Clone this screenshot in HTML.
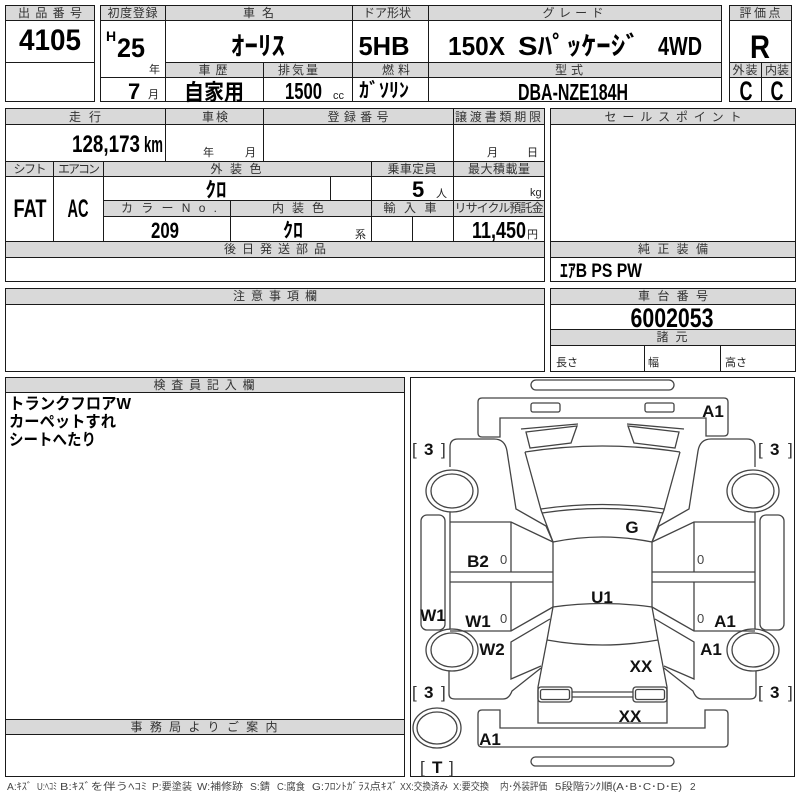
<!DOCTYPE html>
<html><head><meta charset="utf-8"><style>
html,body{margin:0;padding:0;background:#fff;width:800px;height:800px;overflow:hidden}
svg{display:block}
text{font-family:'Liberation Sans','Noto Sans CJK JP',sans-serif;}
.h{font-size:12px;fill:#333;text-anchor:middle}
.v{font-weight:bold;fill:#000}
.c{text-anchor:middle}
.s{font-size:11px;fill:#222}
.l{stroke:#1a1a1a;stroke-width:1;fill:none}
.g{fill:#d9d9d9}
.d{stroke:#444;stroke-width:1.3;fill:none}
.cl{font-weight:bold;font-size:17px;fill:#111}
.br{font-size:17px;fill:#333}
.z{font-size:13px;fill:#444}
.lg{font-size:10px;fill:#444}
</style></head><body>
<svg width="800" height="800" viewBox="0 0 800 800" xmlns="http://www.w3.org/2000/svg">
<!-- fills -->
<rect class="g" x="5" y="5" width="90" height="15"/>
<rect class="g" x="100" y="5" width="622" height="15"/>
<rect class="g" x="165" y="62" width="557" height="15"/>
<rect class="g" x="729" y="5" width="63" height="15"/>
<rect class="g" x="729" y="62" width="63" height="15"/>
<rect class="g" x="5" y="108" width="540" height="16"/>
<rect class="g" x="5" y="161" width="540" height="15"/>
<rect class="g" x="103" y="200" width="442" height="16"/>
<rect class="g" x="5" y="241" width="540" height="16"/>
<rect class="g" x="550" y="108" width="246" height="16"/>
<rect class="g" x="550" y="241" width="246" height="16"/>
<rect class="g" x="550" y="288" width="246" height="16"/>
<rect class="g" x="550" y="329" width="246" height="16"/>
<rect class="g" x="5" y="288" width="540" height="16"/>
<rect class="g" x="5" y="377" width="400" height="15"/>
<rect class="g" x="5" y="719" width="400" height="15"/>

<!-- lines -->
<path class="l" d="M5.5 5.5H94.5V101.5H5.5Z M5 20.5H95 M5 62.5H95"/>
<path class="l" d="M100.5 5.5H721.5V101.5H100.5Z M100 20.5H722 M165 62.5H722 M100 77.5H722 M165.5 5V102 M352.5 5V102 M428.5 5V102 M263.5 62V102"/>
<path class="l" d="M729.5 5.5H791.5V101.5H729.5Z M729 20.5H792 M729 62.5H792 M729 77.5H792 M761.5 62V102"/>
<path class="l" d="M5.5 108.5H544.5V281.5H5.5Z M5 124.5H545 M5 161.5H545 M5 176.5H545 M103 200.5H545 M103 216.5H545 M5 241.5H545 M5 257.5H545 M165.5 108V161 M263.5 108V161 M453.5 108V241 M53.5 161V241 M103.5 161V241 M371.5 161V241 M330.5 176V200 M230.5 200V241 M412.5 216V241"/>
<path class="l" d="M550.5 108.5H795.5V281.5H550.5Z M550 124.5H796 M550 241.5H796 M550 257.5H796"/>
<path class="l" d="M550.5 288.5H795.5V371.5H550.5Z M550 304.5H796 M550 329.5H796 M550 345.5H796 M644.5 345V372 M720.5 345V372"/>
<path class="l" d="M5.5 288.5H544.5V371.5H5.5Z M5 304.5H545"/>
<path class="l" d="M5.5 377.5H404.5V776.5H5.5Z M5 392.5H405 M5 719.5H405 M5 734.5H405"/>
<path class="l" d="M410.5 377.5H794.5V776.5H410.5Z"/>

<!-- top section text -->
<text class="h" x="50" y="17" textLength="64" lengthAdjust="spacing">出品番号</text>
<text class="v c" x="50" y="50" font-size="30" textLength="62" lengthAdjust="spacingAndGlyphs">4105</text>

<text class="h" x="132.5" y="17" textLength="50" lengthAdjust="spacing">初度登録</text>
<text class="h" x="258.5" y="17" textLength="31" lengthAdjust="spacing">車名</text>
<text class="h" x="387" y="17" textLength="48" lengthAdjust="spacing">ドア形状</text>
<text class="h" x="573" y="17" textLength="61" lengthAdjust="spacing">グレード</text>
<text class="h" x="213" y="74" textLength="29" lengthAdjust="spacing">車歴</text>
<text class="h" x="298" y="74" textLength="40" lengthAdjust="spacing">排気量</text>
<text class="h" x="396" y="74" textLength="28" lengthAdjust="spacing">燃料</text>
<text class="h" x="569" y="74" textLength="28" lengthAdjust="spacing">型式</text>

<text class="v" x="106" y="41" font-size="14">H</text>
<text class="v" x="117" y="57" font-size="27" textLength="28" lengthAdjust="spacingAndGlyphs">25</text>
<text class="s" x="149" y="73">年</text>
<text class="v" x="128" y="99" font-size="22">7</text>
<text class="s" x="148" y="98">月</text>
<text class="v c" x="258" y="55" font-size="26" textLength="54" lengthAdjust="spacingAndGlyphs">ｵｰﾘｽ</text>
<text class="v c" x="384" y="55" font-size="26" textLength="51" lengthAdjust="spacingAndGlyphs">5HB</text>
<text class="v" x="448" y="55" font-size="26" textLength="57" lengthAdjust="spacingAndGlyphs">150X</text>
<text class="v" x="518" y="55" font-size="26" textLength="122" lengthAdjust="spacingAndGlyphs">Sﾊﾟｯｹｰｼﾞ</text>
<text class="v" x="658" y="55" font-size="26" textLength="44" lengthAdjust="spacingAndGlyphs">4WD</text>
<text class="v c" x="214" y="100" font-size="22" textLength="60" lengthAdjust="spacingAndGlyphs">自家用</text>
<text class="v" x="285" y="99" font-size="23" textLength="37" lengthAdjust="spacingAndGlyphs">1500</text>
<text class="s" x="333" y="99">cc</text>
<text class="v" x="359" y="97" font-size="20" textLength="50" lengthAdjust="spacingAndGlyphs">ｶﾞｿﾘﾝ</text>
<text class="v c" x="573" y="100" font-size="23" textLength="110" lengthAdjust="spacingAndGlyphs">DBA-NZE184H</text>

<text class="h" x="760" y="17" textLength="41" lengthAdjust="spacing">評価点</text>
<text class="v c" x="760" y="58" font-size="32" textLength="20" lengthAdjust="spacingAndGlyphs">R</text>
<text class="h" x="745" y="74" font-size="11" textLength="25" lengthAdjust="spacing">外装</text>
<text class="h" x="777" y="74" font-size="11" textLength="24" lengthAdjust="spacing">内装</text>
<text class="v c" x="746" y="100" font-size="27" textLength="13" lengthAdjust="spacingAndGlyphs">C</text>
<text class="v c" x="777" y="100" font-size="27" textLength="13" lengthAdjust="spacingAndGlyphs">C</text>

<!-- section 2 -->
<text class="h" x="85" y="121" textLength="32" lengthAdjust="spacing">走行</text>
<text class="h" x="215" y="121" textLength="26" lengthAdjust="spacing">車検</text>
<text class="h" x="358" y="121" textLength="61" lengthAdjust="spacing">登録番号</text>
<text class="h" x="498" y="121" textLength="86" lengthAdjust="spacing">譲渡書類期限</text>
<text class="v" x="72" y="152" font-size="24" textLength="68" lengthAdjust="spacingAndGlyphs">128,173</text>
<text class="v" x="144" y="152" font-size="22" textLength="19" lengthAdjust="spacingAndGlyphs">km</text>
<text class="s" x="203" y="156" font-size="12">年</text>
<text class="s" x="245" y="156" font-size="12">月</text>
<text class="s" x="487" y="156" font-size="12">月</text>
<text class="s" x="527" y="156" font-size="12">日</text>

<text class="h" x="30" y="173" textLength="33" lengthAdjust="spacing">シフト</text>
<text class="h" x="79" y="173" textLength="42" lengthAdjust="spacing">エアコン</text>
<text class="h" x="236" y="173" textLength="51" lengthAdjust="spacing">外装色</text>
<text class="h" x="412" y="173" textLength="49" lengthAdjust="spacing">乗車定員</text>
<text class="h" x="499" y="173" textLength="62" lengthAdjust="spacing">最大積載量</text>
<text class="v c" x="216" y="197" font-size="21">ｸﾛ</text>
<text class="v" x="412" y="197" font-size="22">5</text>
<text class="s" x="436" y="197" font-size="12">人</text>
<text class="s" x="530" y="196" font-size="12">kg</text>
<text class="v c" x="30" y="217" font-size="25" textLength="33" lengthAdjust="spacingAndGlyphs">FAT</text>
<text class="v c" x="78" y="217" font-size="25" textLength="21" lengthAdjust="spacingAndGlyphs">AC</text>

<text class="h" x="169" y="212" textLength="96" lengthAdjust="spacing">カラーNo.</text>
<text class="h" x="298" y="212" textLength="52" lengthAdjust="spacing">内装色</text>
<text class="h" x="410" y="212" textLength="53" lengthAdjust="spacing">輸入車</text>
<text class="h" x="499" y="212" textLength="89" lengthAdjust="spacing">リサイクル預託金</text>
<text class="v c" x="165" y="238" font-size="22" textLength="28" lengthAdjust="spacingAndGlyphs">209</text>
<text class="v c" x="293" y="237" font-size="20">ｸﾛ</text>
<text class="s" x="355" y="238" font-size="12">系</text>
<text class="v" x="472" y="238" font-size="23" textLength="54" lengthAdjust="spacingAndGlyphs">11,450</text>
<text class="s" x="527" y="238" font-size="13">円</text>
<text class="h" x="275" y="253" textLength="102" lengthAdjust="spacing">後日発送部品</text>

<text class="h" x="673" y="121" textLength="137" lengthAdjust="spacing">セールスポイント</text>
<text class="h" x="673" y="253" textLength="70" lengthAdjust="spacing">純正装備</text>
<text class="v" x="560" y="277" font-size="19" textLength="82" lengthAdjust="spacingAndGlyphs">ｴｱB PS PW</text>

<text class="h" x="673" y="300" textLength="70" lengthAdjust="spacing">車台番号</text>
<text class="v c" x="672" y="327" font-size="27" textLength="83" lengthAdjust="spacingAndGlyphs">6002053</text>
<text class="h" x="672" y="341" textLength="31" lengthAdjust="spacing">諸元</text>
<text class="s" x="556" y="366" font-size="12">長さ</text>
<text class="s" x="648" y="366" font-size="12">幅</text>
<text class="s" x="725" y="366" font-size="12">高さ</text>

<text class="h" x="275" y="300" textLength="84" lengthAdjust="spacing">注意事項欄</text>
<text class="h" x="204" y="389" textLength="101" lengthAdjust="spacing">検査員記入欄</text>
<text class="v" x="9" y="409" font-size="16" textLength="122" lengthAdjust="spacingAndGlyphs">トランクフロアW</text>
<text class="v" x="9" y="427" font-size="16" textLength="107" lengthAdjust="spacingAndGlyphs">カーペットすれ</text>
<text class="v" x="9" y="445" font-size="16" textLength="87" lengthAdjust="spacingAndGlyphs">シートへたり</text>
<text class="h" x="204" y="731" textLength="147" lengthAdjust="spacing">事務局よりご案内</text>

<!-- car diagram -->
<g class="d">
<rect x="531" y="380" width="143" height="10" rx="5"/>
<path d="M482,398 H724 Q728,398 728,402 V432 Q728,436 724,436 H706 V418 H500 V437 H482 Q478,437 478,433 V402 Q478,398 482,398 Z"/>
<rect x="531" y="403" width="29" height="9" rx="2"/>
<rect x="645" y="403" width="29" height="9" rx="2"/>
<path d="M525,452 Q602,440 680,452"/>
<path d="M541,509 Q602,500 664,509"/>
<path d="M542,513 Q602,504 663,513"/>
<path d="M553,542 Q602,532 652,542"/>
<path d="M553,542 V607 M652,542 V607"/>
<path d="M553,607 Q602,600 652,607"/>
<path d="M553,607 L547,640 M652,607 L658,640"/>
<path d="M547,640 Q602,650 658,640"/>
<path d="M547,640 L538,687 V723 H667 V687 L658,640"/>
<rect x="538" y="687" width="34" height="15" rx="3"/>
<rect x="540.5" y="689.5" width="29" height="10" rx="2"/>
<rect x="633" y="687" width="34" height="15" rx="3"/>
<rect x="635.5" y="689.5" width="29" height="10" rx="2"/>
<path d="M572,692 H633 M572,697 H633"/>
<path d="M482,710 H500 V728 H705 V710 H724 Q728,710 728,714 V743 Q728,747 724,747 H482 Q478,747 478,743 V714 Q478,710 482,710 Z"/>
<rect x="531" y="757" width="143" height="9" rx="4.5"/>
<ellipse cx="437" cy="728" rx="24" ry="20"/>
<ellipse cx="437" cy="728" rx="20" ry="16"/>
<g id="half">
<path d="M450,467 V447 Q450,439 458,439 H494 Q505,439 507,451 L516,509 L546,526 L553,542"/>
<path d="M525,452 L541,510 L553,542"/>
<path d="M526,432 L577,426 L571,443 L530,448 Z"/>
<path d="M521,429 L578,424"/>
<ellipse cx="452" cy="491" rx="26" ry="21"/>
<ellipse cx="452" cy="491" rx="21" ry="17"/>
<ellipse cx="452" cy="650" rx="26" ry="21"/>
<ellipse cx="452" cy="650" rx="21" ry="17"/>
<rect x="421" y="515" width="24" height="115" rx="6"/>
<path d="M450,522 H511 L553,542 M511,522 V572 M450,512 V629 M450,572 H553 M450,582 H553 M511,582 V631 M450,631 H511 L553,607"/>
<path d="M550,619 L511,642 V679 L541,666"/>
<path d="M449,671 V694 Q449,699 455,699 H503 Q509,699 512,691 L541,668"/>
</g>
<g transform="matrix(-1,0,0,1,1205,0)">
<path d="M450,467 V447 Q450,439 458,439 H494 Q505,439 507,451 L516,509 L546,526 L553,542"/>
<path d="M525,452 L541,510 L553,542"/>
<path d="M526,432 L577,426 L571,443 L530,448 Z"/>
<path d="M521,429 L578,424"/>
<ellipse cx="452" cy="491" rx="26" ry="21"/>
<ellipse cx="452" cy="491" rx="21" ry="17"/>
<ellipse cx="452" cy="650" rx="26" ry="21"/>
<ellipse cx="452" cy="650" rx="21" ry="17"/>
<rect x="421" y="515" width="24" height="115" rx="6"/>
<path d="M450,522 H511 L553,542 M511,522 V572 M450,512 V629 M450,572 H553 M450,582 H553 M511,582 V631 M450,631 H511 L553,607"/>
<path d="M550,619 L511,642 V679 L541,666"/>
<path d="M449,671 V694 Q449,699 455,699 H503 Q509,699 512,691 L541,668"/>
</g>
</g>

<!-- car labels -->
<text class="cl c" x="713" y="417">A1</text>
<text class="br" x="412" y="455">[</text><text class="cl" x="424" y="455">3</text><text class="br" x="441" y="455">]</text>
<text class="br" x="758" y="455">[</text><text class="cl" x="770" y="455">3</text><text class="br" x="788" y="455">]</text>
<text class="cl c" x="632" y="533">G</text>
<text class="cl c" x="478" y="567">B2</text>
<text class="z" x="500" y="564">0</text>
<text class="z" x="697" y="564">0</text>
<text class="cl c" x="602" y="603">U1</text>
<text class="cl c" x="433" y="621">W1</text>
<text class="cl c" x="478" y="627">W1</text>
<text class="z" x="500" y="623">0</text>
<text class="z" x="697" y="623">0</text>
<text class="cl c" x="725" y="627">A1</text>
<text class="cl c" x="492" y="655">W2</text>
<text class="cl c" x="711" y="655">A1</text>
<text class="cl c" x="641" y="672">XX</text>
<text class="br" x="412" y="698">[</text><text class="cl" x="424" y="698">3</text><text class="br" x="441" y="698">]</text>
<text class="br" x="758" y="698">[</text><text class="cl" x="770" y="698">3</text><text class="br" x="788" y="698">]</text>
<text class="cl c" x="630" y="722">XX</text>
<text class="cl c" x="490" y="745">A1</text>
<text class="br" x="420" y="773">[</text><text class="cl" x="432" y="773">T</text><text class="br" x="449" y="773">]</text>

<!-- legend -->
<text class="lg" x="7" y="790" textLength="25" lengthAdjust="spacingAndGlyphs">A:ｷｽﾞ</text>
<text class="lg" x="37" y="790" textLength="20" lengthAdjust="spacingAndGlyphs">U:ﾍｺﾐ</text>
<text class="lg" x="60" y="790" textLength="87" lengthAdjust="spacingAndGlyphs">B:ｷｽﾞを伴うﾍｺﾐ</text>
<text class="lg" x="152" y="790" textLength="40" lengthAdjust="spacingAndGlyphs">P:要塗装</text>
<text class="lg" x="197" y="790" textLength="46" lengthAdjust="spacingAndGlyphs">W:補修跡</text>
<text class="lg" x="250" y="790" textLength="20" lengthAdjust="spacingAndGlyphs">S:錆</text>
<text class="lg" x="277" y="790" textLength="28" lengthAdjust="spacingAndGlyphs">C:腐食</text>
<text class="lg" x="312" y="790" textLength="86" lengthAdjust="spacingAndGlyphs">G:ﾌﾛﾝﾄｶﾞﾗｽ点ｷｽﾞ</text>
<text class="lg" x="400" y="790" textLength="48" lengthAdjust="spacingAndGlyphs">XX:交換済み</text>
<text class="lg" x="453" y="790" textLength="36" lengthAdjust="spacingAndGlyphs">X:要交換</text>
<text class="lg" x="500" y="790" textLength="47" lengthAdjust="spacingAndGlyphs">内･外装評価</text>
<text class="lg" x="555" y="790" textLength="127" lengthAdjust="spacingAndGlyphs">5段階ﾗﾝｸ順(A･B･C･D･E)</text>
<text class="lg" x="690" y="790">2</text>
</svg>
</body></html>
